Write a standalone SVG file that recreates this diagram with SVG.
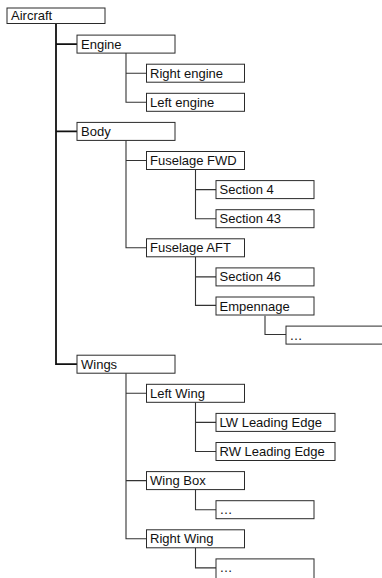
<svg xmlns="http://www.w3.org/2000/svg" width="382" height="578" viewBox="0 0 382 578">
<style>
  .box { fill: #ffffff; stroke: #2a2a2a; stroke-width: 1; }
  .lbl { font-family: "Liberation Sans", Arial, sans-serif; font-size: 13px; fill: #111; }
  .root { fill: none; stroke: #111; stroke-width: 1.8; }
  .edge { fill: none; stroke: #333; stroke-width: 1.1; }
</style>
<rect width="382" height="578" fill="#ffffff"/>
<g id="connectors">
  <path class="root" d="M56 23.5 V364.2 H77 M56 44.1 H77 M56 131.4 H77"/>
  <path class="edge" d="M126 53.1 V102.3 H146.5 M126 73.2 H146.5"/>
  <path class="edge" d="M126 140.4 V247.8 H146.5 M126 160.5 H146.5"/>
  <path class="edge" d="M195.5 169.5 V218.7 H216 M195.5 189.6 H216"/>
  <path class="edge" d="M195.5 256.8 V305.4 H216 M195.5 276.9 H216"/>
  <path class="edge" d="M265 315.8 V334.5 H286"/>
  <path class="edge" d="M126 373.2 V538.8 H146.5 M126 393.3 H146.5 M126 480.6 H146.5"/>
  <path class="edge" d="M195.5 402.3 V451.5 H216 M195.5 422.4 H216"/>
  <path class="edge" d="M195.5 489.6 V509.7 H216"/>
  <path class="edge" d="M195.5 547.8 V567.9 H216"/>
</g>
<g id="n-aircraft"><rect class="box" x="7" y="8" width="98" height="15.5"/><text class="lbl" x="11" y="20.3">Aircraft</text></g>
<g id="n-engine"><rect class="box" x="77" y="35.1" width="98" height="18"/><text class="lbl" x="81" y="48.6">Engine</text></g>
<g id="n-right-engine"><rect class="box" x="146.5" y="64.2" width="98" height="18"/><text class="lbl" x="150" y="77.7">Right engine</text></g>
<g id="n-left-engine"><rect class="box" x="146.5" y="93.3" width="98" height="18"/><text class="lbl" x="150" y="106.8">Left engine</text></g>
<g id="n-body"><rect class="box" x="77" y="122.4" width="98" height="18"/><text class="lbl" x="81" y="135.9">Body</text></g>
<g id="n-fuselage-fwd"><rect class="box" x="146.5" y="151.5" width="98" height="18"/><text class="lbl" x="150" y="165">Fuselage FWD</text></g>
<g id="n-section-4"><rect class="box" x="216" y="180.6" width="98" height="18"/><text class="lbl" x="219.5" y="194.1">Section 4</text></g>
<g id="n-section-43"><rect class="box" x="216" y="209.7" width="98" height="18"/><text class="lbl" x="219.5" y="223.2">Section 43</text></g>
<g id="n-fuselage-aft"><rect class="box" x="146.5" y="238.8" width="98" height="18"/><text class="lbl" x="150" y="252.3">Fuselage AFT</text></g>
<g id="n-section-46"><rect class="box" x="216" y="267.9" width="98" height="18"/><text class="lbl" x="219.5" y="281.4">Section 46</text></g>
<g id="n-empennage"><rect class="box" x="216" y="297" width="98" height="18"/><text class="lbl" x="219.5" y="310.5">Empennage</text></g>
<g id="n-emp-more"><rect class="box" x="286" y="326.1" width="98" height="18"/><text class="lbl" x="289.5" y="339.6">…</text></g>
<g id="n-wings"><rect class="box" x="77" y="355.2" width="98" height="18"/><text class="lbl" x="81" y="368.7">Wings</text></g>
<g id="n-left-wing"><rect class="box" x="146.5" y="384.3" width="98" height="18"/><text class="lbl" x="150" y="397.8">Left Wing</text></g>
<g id="n-lw-le"><rect class="box" x="216" y="413.4" width="119" height="18"/><text class="lbl" x="219.5" y="426.9">LW Leading Edge</text></g>
<g id="n-rw-le"><rect class="box" x="216" y="442.5" width="119" height="18"/><text class="lbl" x="219.5" y="456">RW Leading Edge</text></g>
<g id="n-wing-box"><rect class="box" x="146.5" y="471.6" width="98" height="18"/><text class="lbl" x="150" y="485.1">Wing Box</text></g>
<g id="n-wingbox-more"><rect class="box" x="216" y="500.7" width="98" height="18"/><text class="lbl" x="219.5" y="514.2">…</text></g>
<g id="n-right-wing"><rect class="box" x="146.5" y="529.8" width="98" height="18"/><text class="lbl" x="150" y="543.3">Right Wing</text></g>
<g id="n-rightwing-more"><rect class="box" x="216" y="558.9" width="98" height="22"/><text class="lbl" x="219.5" y="572.4">…</text></g>
</svg>
